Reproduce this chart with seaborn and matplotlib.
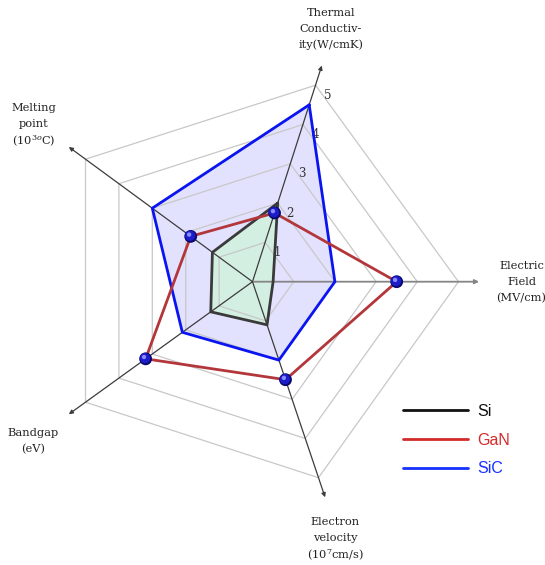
import numpy as np
import pandas as pd
import matplotlib
matplotlib.use("Agg")
import matplotlib.pyplot as plt
import seaborn as sns
from matplotlib.lines import Line2D

# ---- data -------------------------------------------------------------
axis_labels = [
    ["Thermal", "Conductiv-", "ity(W/cmK)"],
    ["Electric", "Field", "(MV/cm)"],
    ["Electron", "velocity", "(10$^7$cm/s)"],
    ["Bandgap", "(eV)"],
    ["Melting", "point", "(10$^{3o}$C)"],
]
materials = ["Si", "GaN", "SiC"]
si_values = [2.0, 0.5, 1.1, 1.25, 1.2]
gan_values = [1.75, 3.5, 2.5, 3.2, 1.85]
sic_values = [4.5, 2.0, 2.0, 2.1, 3.0]
ring_levels = [1, 2, 3, 4, 5]
tick_labels = ["1", "2", "3", "4", "5"]

# ---- pseudo-3D radar frame (pixel space) -------------------------------
W, H = 545, 565
origin = np.array([252.5, 281.7])
# per-unit direction of each radar axis in an oblique view
axis_dirs = np.array([
    [12.6, -39.3],   # thermal conductivity
    [41.2, 0.0],     # electric field
    [13.2, 39.2],    # electron velocity
    [-33.4, 24.1],   # bandgap
    [-33.4, -24.5],  # melting point
])
axis_extent = 5.5


def project(values):
    v = np.asarray(values, dtype=float)[:, None]
    return origin + v * axis_dirs


line_colors = {"Si": "#3a3a3a", "GaN": "#b3363a", "SiC": "#0a14f0"}
legend_colors = {"Si": "#111111", "GaN": "#d42a2a", "SiC": "#1530ff"}

sns.set_theme(style="white")
plt.rcParams["font.family"] = ["DejaVu Serif"]
plt.rcParams["mathtext.fontset"] = "dejavuserif"

fig = plt.figure(figsize=(W / 100, H / 100), dpi=100)
ax = fig.add_axes([0, 0, 1, 1])
ax.set_xlim(0, W)
ax.set_ylim(H, 0)
ax.set_axis_off()

# filled areas
sic_pts = project(sic_values)
si_pts = project(si_values)
ax.fill(sic_pts[:, 0], sic_pts[:, 1], color=(0.0, 0.0, 1.0, 0.115), lw=0, zorder=1)
ax.fill(si_pts[:, 0], si_pts[:, 1], color="#d3efe1", lw=0, zorder=2)

# concentric grid rings
for lvl in ring_levels:
    p = project([lvl] * 5)
    p = np.vstack([p, p[:1]])
    ax.plot(p[:, 0], p[:, 1], color="#c8c8c8", lw=0.9, zorder=3)

# radial axes with arrow heads
for i, d in enumerate(axis_dirs):
    tip = origin + axis_extent * d
    col, lw = ("#858585", 1.3) if i == 1 else ("#3c3c3c", 0.9)
    ax.annotate("", xy=tip, xytext=origin,
                arrowprops=dict(arrowstyle="-|>", color=col, lw=lw,
                                mutation_scale=6, shrinkA=0, shrinkB=0),
                zorder=4)

# scale labels along the thermal axis
for lvl, txt in zip(ring_levels, tick_labels):
    pos = origin + lvl * axis_dirs[0] + np.array([12.0, 10.0])
    ax.text(pos[0], pos[1], txt, fontsize=8.5, color="#333333",
            ha="center", va="center", zorder=5)

# material outlines
rows = []
for mat, vals in zip(materials, [si_values, gan_values, sic_values]):
    pts = project(vals)
    pts = np.vstack([pts, pts[:1]])
    for k, (x, y) in enumerate(pts):
        rows.append({"material": mat, "order": k, "x": x, "y": y})
df = pd.DataFrame(rows)
for mat, z in [("SiC", 6), ("Si", 7), ("GaN", 8)]:
    sns.lineplot(data=df[df.material == mat], x="x", y="y", sort=False,
                 estimator=None, color=line_colors[mat], lw=2.0,
                 solid_joinstyle="miter", ax=ax, zorder=z, legend=False)
ax.set_xlim(0, W)
ax.set_ylim(H, 0)
ax.set_axis_off()

# shaded sphere markers on the GaN vertices
gan_pts = project(gan_values)
sns.scatterplot(x=gan_pts[:, 0], y=gan_pts[:, 1], s=85, color="#08086e",
                edgecolor="none", ax=ax, zorder=9, legend=False)
sns.scatterplot(x=gan_pts[:, 0] - 0.6, y=gan_pts[:, 1] - 0.6, s=55, color="#1c1cc8",
                edgecolor="none", ax=ax, zorder=10, legend=False)
sns.scatterplot(x=gan_pts[:, 0] - 1.6, y=gan_pts[:, 1] - 1.8, s=10, color="#8a8aff",
                edgecolor="none", ax=ax, zorder=11, legend=False)

# axis titles, one text per line on a fixed pitch
label_pos = [(331, 28), (521.5, 281), (335, 537), (33, 440.5), (34, 123)]
line_pitch = 16.0
for (x, yc), lines in zip(label_pos, axis_labels):
    n = len(lines)
    for j, txt in enumerate(lines):
        y = yc + (j - (n - 1) / 2) * line_pitch
        ax.text(x, y, txt, fontsize=8.2, color="#222222", ha="center",
                va="center_baseline", zorder=12)

# legend
handles = [Line2D([], [], color=legend_colors[m], lw=2.0) for m in materials]
leg = ax.legend(handles, materials, loc="upper left",
                bbox_to_anchor=(403, 404), bbox_transform=ax.transData,
                frameon=False, handlelength=4.1, handletextpad=0.55,
                labelspacing=0.86, borderpad=0, borderaxespad=0,
                prop={"family": "Liberation Sans", "size": 11.5},
                labelcolor=[legend_colors[m] for m in materials])

fig.savefig("out.png", dpi=100)
